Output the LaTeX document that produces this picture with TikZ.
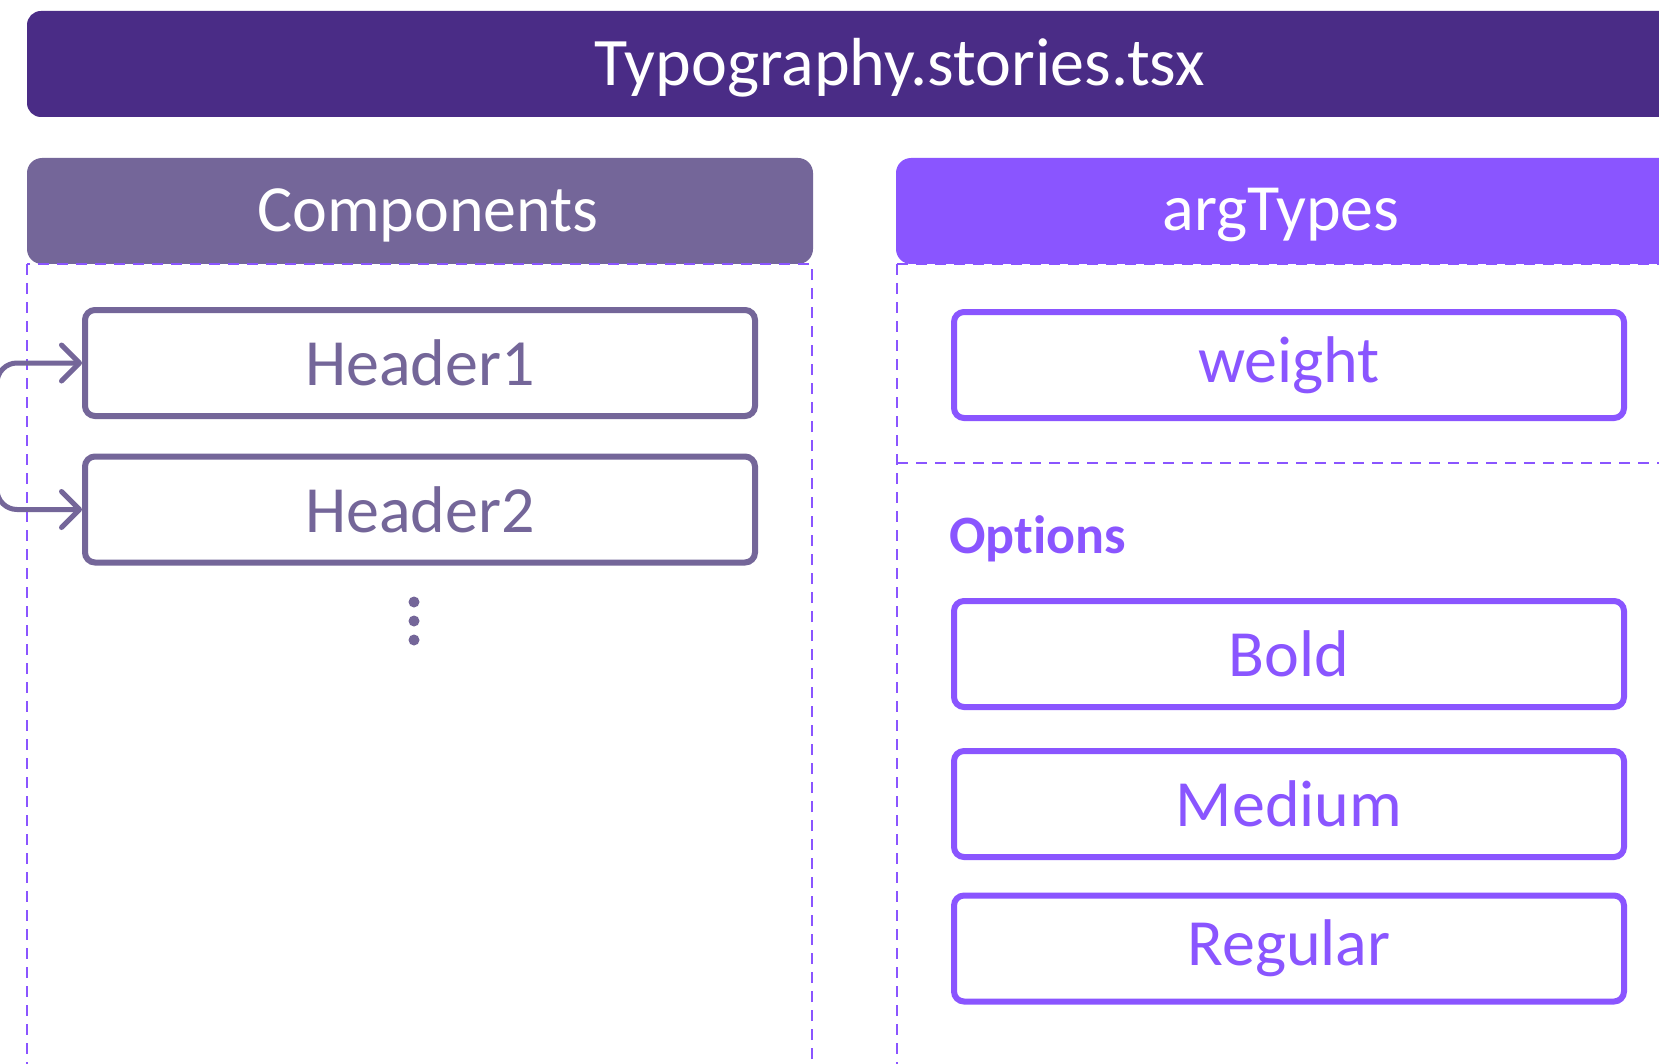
\documentclass[tikz,border=0pt]{standalone}
\usepackage{fontspec}
\setmainfont{Carlito}[Ligatures=NoCommon]
\usetikzlibrary{arrows.meta}
\definecolor{topbar}{HTML}{4A2C86}
\definecolor{midpurple}{HTML}{746699}
\definecolor{brightpurple}{HTML}{8A55FF}
\tikzset{
  itembox/.style={draw, line width=3pt, rounded corners=5pt, fill=white,
    minimum width=335pt, minimum height=53pt, inner sep=0pt,
    font=\fontsize{33}{36}\selectfont},
  leftitem/.style={itembox, draw=midpurple, text=midpurple},
  rightitem/.style={itembox, draw=brightpurple, text=brightpurple},
  panel/.style={draw=brightpurple, line width=1pt, dash pattern=on 5.5pt off 4pt},
  conn/.style={draw=midpurple, line width=2.5pt, rounded corners=10pt,
    -{Straight Barb[length=9pt,width=18pt,round]}},
  headtext/.style={text=white, inner sep=0pt, font=\fontsize{33}{36}\selectfont},
  dotmark/.style={fill=midpurple, draw=none, circle, minimum size=5.5pt, inner sep=0pt}
}
\begin{document}
\begin{tikzpicture}[x=0.5pt,y=-0.5pt]
\useasboundingbox (0,0) rectangle (1659,1064);
\clip (0,0) rectangle (1659,1064);
\fill[white] (0,0) rectangle (1659,1064);

% title bar
\fill[topbar, rounded corners=7pt] (27,11) rectangle (1800,117);
\node[headtext, font=\fontsize{34}{38}\selectfont] (title) at (900,68) {Typography.stories.tsx};

% column headers
\fill[midpurple, rounded corners=7.5pt] (27,158) rectangle (813,264);
\node[headtext] (comp) at (428,215) {Components};
\fill[brightpurple, rounded corners=7.5pt] (896,158) rectangle (1800,264);
\node[headtext] (argt) at (1281,215) {argTypes};

% dashed panels
\draw[panel] (27,264) rectangle (812,1200);
\draw[panel] (897,264) rectangle (1800,1200);
\draw[panel] (897,463) -- (1800,463);

% left items
\node[leftitem] (h1) at (420,363) {Header1};
\node[leftitem] (h2) at (420,509.5) {Header2};
\node[dotmark] (d1) at (414,602) {};
\node[dotmark] (d2) at (414,621) {};
\node[dotmark] (d3) at (414,640) {};

% connectors
\coordinate (brk) at (-3,436);
\draw[conn] (brk) |- (h1.west);
\draw[conn] (brk) |- (h2.west);

% right items
\node[rightitem] (weight) at (1289,365) {weight};
\node[text=brightpurple, anchor=west, inner sep=0pt,
  font=\fontsize{27}{30}\selectfont\bfseries] (opts) at (949,539) {Options};
\node[rightitem] (bold) at (1289,654) {Bold};
\node[rightitem] (medium) at (1289,804) {Medium};
\node[rightitem] (regular) at (1289,948.5) {Regular};
\end{tikzpicture}
\end{document}
